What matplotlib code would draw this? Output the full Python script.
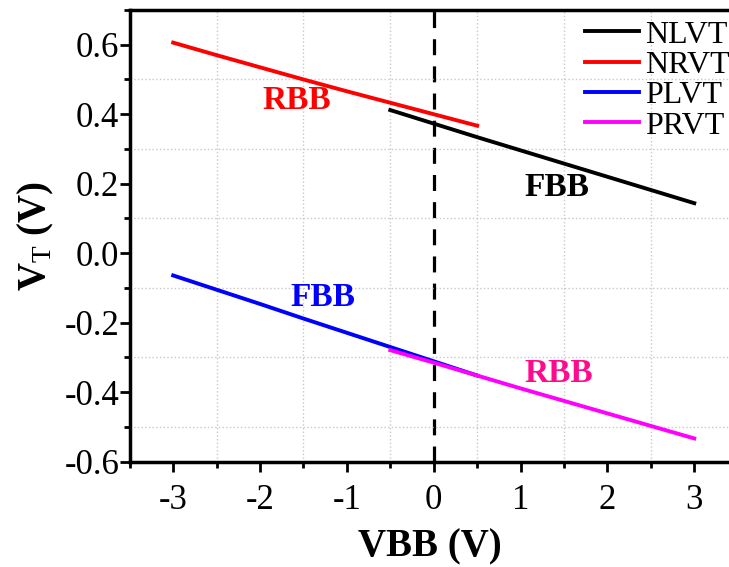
import numpy as np
import matplotlib.pyplot as plt
from matplotlib.ticker import MultipleLocator

plt.rcParams['font.family'] = ['Liberation Serif', 'DejaVu Serif']
plt.rcParams['mathtext.fontset'] = 'custom'
plt.rcParams['mathtext.rm'] = 'Liberation Serif'
plt.rcParams['mathtext.bf'] = 'Liberation Serif:bold'
plt.rcParams['axes.unicode_minus'] = False

# threshold voltage vs body bias
vbb_nl = [-0.5, 0.0, 0.5, 1.0, 1.5, 2.0, 2.5, 3.0]
vt_nl = [0.412, 0.373, 0.334, 0.296, 0.258, 0.220, 0.182, 0.144]

vbb_nr = [-3.0, -2.5, -2.0, -1.5, -1.0, -0.5, 0.0, 0.5]
vt_nr = [0.606, 0.570, 0.535, 0.500, 0.466, 0.433, 0.400, 0.367]

vbb_pl = [-3.0, -2.5, -2.0, -1.5, -1.0, -0.5, 0.0, 0.5]
vt_pl = [-0.064, -0.105, -0.146, -0.188, -0.229, -0.270, -0.311, -0.352]

vbb_pr = [-0.5, 0.0, 0.5, 1.0, 1.5, 2.0, 2.5, 3.0]
vt_pr = [-0.279, -0.315, -0.352, -0.389, -0.425, -0.461, -0.497, -0.533]

fig = plt.figure(figsize=(7.29, 5.67), dpi=100)
ax = fig.add_axes([0.178, 0.1857, 0.822, 0.7967])

ax.grid(True, which='minor', color='#c8c8c8', linestyle=':', linewidth=1.0)
ax.axvline(0, color='black', linewidth=2.3, dashes=(5, 3.5), zorder=1)

lw = 2.8
ax.plot(vbb_nl, vt_nl, color='black', lw=lw, label='NLVT', zorder=3)
ax.plot(vbb_nr, vt_nr, color='#ff0000', lw=lw, label='NRVT', zorder=3)
ax.plot(vbb_pl, vt_pl, color='#0000ff', lw=lw, label='PLVT', zorder=3)
ax.plot(vbb_pr, vt_pr, color='#ff00ff', lw=lw, label='PRVT', zorder=4)

ax.text(-1.58, 0.44, 'RBB', color='#ff0000', fontsize=24, fontweight='bold', ha='center', va='center')
ax.text(1.42, 0.19, 'FBB', color='black', fontsize=24, fontweight='bold', ha='center', va='center')
ax.text(-1.28, -0.128, 'FBB', color='#0000ff', fontsize=24, fontweight='bold', ha='center', va='center')
ax.text(1.44, -0.345, 'RBB', color='#ff0a8c', fontsize=24, fontweight='bold', ha='center', va='center')

ax.set_xlim(-3.5, 3.4)
ax.set_ylim(-0.6, 0.7)
ax.xaxis.set_major_locator(MultipleLocator(1))
ax.xaxis.set_minor_locator(MultipleLocator(0.5))
ax.yaxis.set_major_locator(MultipleLocator(0.2))
ax.yaxis.set_minor_locator(MultipleLocator(0.1))
ax.yaxis.set_major_formatter(plt.FormatStrFormatter('%.1f'))

ax.tick_params(which='major', direction='out', length=7, width=2, labelsize=25)
ax.tick_params(axis='x', which='major', pad=9)
ax.tick_params(axis='y', which='major', pad=0.5)
ax.tick_params(which='minor', direction='out', length=4, width=2)
ax.spines['right'].set_visible(False)
for s in ['left', 'bottom', 'top']:
    ax.spines[s].set_linewidth(2.5)

ax.set_xlabel('VBB (V)', fontsize=28, fontweight='bold', labelpad=8)
ax.set_ylabel(r'$\mathbf{V}_{\mathrm{T}}$ (V)', fontsize=28, fontweight='bold', labelpad=6)

ax.legend(loc='upper right', bbox_to_anchor=(1.006, 0.97), bbox_transform=fig.transFigure,
          frameon=False, fontsize=23, handlelength=1.7, handletextpad=0.2,
          labelspacing=0.03, borderpad=0.1, borderaxespad=0.0)

fig.savefig('out.png', dpi=100)
